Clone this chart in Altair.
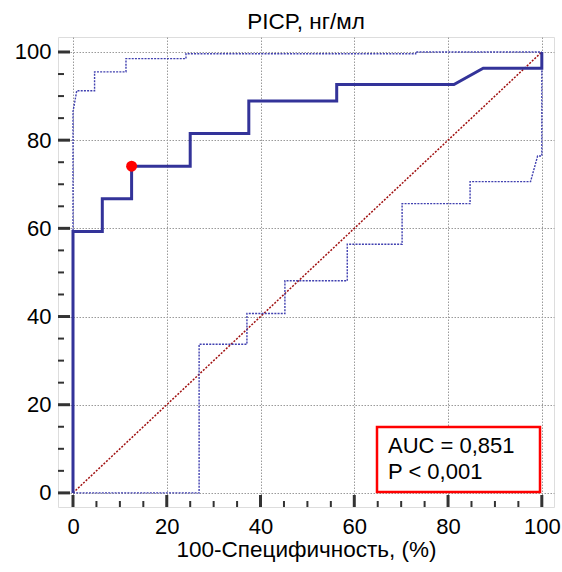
import altair as alt
import pandas as pd

# ---------------- data ----------------
roc_x = [0, 0, 6.25, 6.25, 12.5, 12.5, 25, 25, 37.5, 37.5, 56.25, 56.25, 81.25, 87.5, 100, 100]
roc_y = [0, 59.3, 59.3, 66.7, 66.7, 74.1, 74.1, 81.5, 81.5, 88.9, 88.9, 92.6, 92.6, 96.3, 96.3, 100]

upper_x = [0, 0, 0.8, 4.6, 4.6, 11.3, 11.3, 24.1, 24.1, 73.1, 73.1, 100]
upper_y = [0, 86.5, 91.2, 91.2, 95.5, 95.5, 98.5, 98.5, 99.6, 99.6, 100, 100]

lower_x = [0, 26.9, 26.9, 37.1, 37.1, 45.2, 45.2, 58.5, 58.5, 70.2, 70.2, 84.7, 84.7, 97.6, 99.1, 100, 100]
lower_y = [0, 0, 33.7, 33.7, 40.7, 40.7, 48.1, 48.1, 56.4, 56.4, 65.6, 65.6, 70.6, 70.6, 76.4, 76.4, 100]

diag_x = [0, 100]
diag_y = [0, 100]

cut_x = [12.5]
cut_y = [74.1]

tick_major = [0, 20, 40, 60, 80, 100]
tick_minor = [5, 10, 15, 25, 30, 35, 45, 50, 55, 65, 70, 75, 85, 90, 95]

title_text = "PICP, нг/мл"
x_title = "100-Специфичность, (%)"
legend_lines = ["AUC = 0,851", "P < 0,001"]

# ---------------- layout ----------------
W, H = 496, 470
FONT = "Liberation Sans"

def series(xs, ys):
    return pd.DataFrame({"x": xs, "y": ys, "i": list(range(len(xs)))})

xscale = alt.Scale(domain=[-3.2, 102.6], nice=False, zero=False)
yscale = alt.Scale(domain=[-3.2, 103.4], nice=False, zero=False)

common = dict(values=tick_major, grid=True, domain=False, ticks=False, tickSize=0,
              gridColor="#9a9a9a", gridDash=[1.5, 1.5], gridWidth=1, gridOpacity=1,
              labelFont=FONT, labelFontSize=22, labelColor="black")

xaxis = alt.Axis(title=x_title, labelPadding=9,
                 titleBaseline="alphabetic", titleY=49, titleFontSize=22.5,
                 titleFont=FONT, titleFontWeight="normal", titleColor="black", **common)
yaxis = alt.Axis(title=None, labelPadding=7, **common)

X = alt.X("x:Q", scale=xscale, axis=xaxis)
Y = alt.Y("y:Q", scale=yscale, axis=yaxis)

blue = "#333399"

diag = alt.Chart(series(diag_x, diag_y)).mark_line(
    color="#a01010", strokeWidth=1.5, strokeDash=[2, 1.5]
).encode(x=X, y=Y, order="i:Q")

upper = alt.Chart(series(upper_x, upper_y)).mark_line(
    color="#4040b0", strokeWidth=1.4, strokeDash=[2, 1.2]
).encode(x=X, y=Y, order="i:Q")

lower = alt.Chart(series(lower_x, lower_y)).mark_line(
    color="#4040b0", strokeWidth=1.4, strokeDash=[2, 1.2]
).encode(x=X, y=Y, order="i:Q")

roc = alt.Chart(series(roc_x, roc_y)).mark_line(
    color=blue, strokeWidth=3, strokeJoin="miter"
).encode(x=X, y=Y, order="i:Q")

point = alt.Chart(pd.DataFrame({"x": cut_x, "y": cut_y})).mark_circle(
    color="#ff0000", size=120, opacity=1
).encode(x=X, y=Y)

maj = pd.DataFrame({"x": tick_major, "y": tick_major})
mnr = pd.DataFrame({"x": tick_minor, "y": tick_minor})

xt_major = alt.Chart(maj).mark_rule(color="#333333", strokeWidth=3).encode(
    x=X, y=alt.value(H), y2=alt.value(H - 12))
xt_minor = alt.Chart(mnr).mark_rule(color="#333333", strokeWidth=2).encode(
    x=X, y=alt.value(H), y2=alt.value(H - 6))
yt_major = alt.Chart(maj).mark_rule(color="#333333", strokeWidth=3).encode(
    y=Y, x=alt.value(0), x2=alt.value(12))
yt_minor = alt.Chart(mnr).mark_rule(color="#333333", strokeWidth=2).encode(
    y=Y, x=alt.value(0), x2=alt.value(6))

one = pd.DataFrame({"a": [0]})
box = alt.Chart(one).mark_rect(fill="white", stroke="#ff0000", strokeWidth=2.5).encode(
    x=alt.value(319), x2=alt.value(482), y=alt.value(390), y2=alt.value(455))
t1 = alt.Chart(one).mark_text(align="left", baseline="alphabetic", fontSize=22,
                              font=FONT, color="black").encode(
    x=alt.value(330), y=alt.value(416), text=alt.value(legend_lines[0]))
t2 = alt.Chart(one).mark_text(align="left", baseline="alphabetic", fontSize=22,
                              font=FONT, color="black").encode(
    x=alt.value(330), y=alt.value(442), text=alt.value(legend_lines[1]))

chart = alt.layer(
    diag, upper, lower, roc, point, xt_major, xt_minor, yt_major, yt_minor, box, t1, t2
).properties(
    width=W, height=H,
    title=alt.TitleParams(title_text, font=FONT, fontSize=22.5, fontWeight="normal",
                          color="black", offset=4, frame="group", anchor="middle"),
    autosize=alt.AutoSizeParams(type="none"),
    padding={"left": 58, "top": 37, "right": 8, "bottom": 65},
).configure_view(
    stroke="#333333", strokeWidth=3
).configure(background="white")

chart.save("out.html", embed_options={"renderer": "svg", "actions": False})
